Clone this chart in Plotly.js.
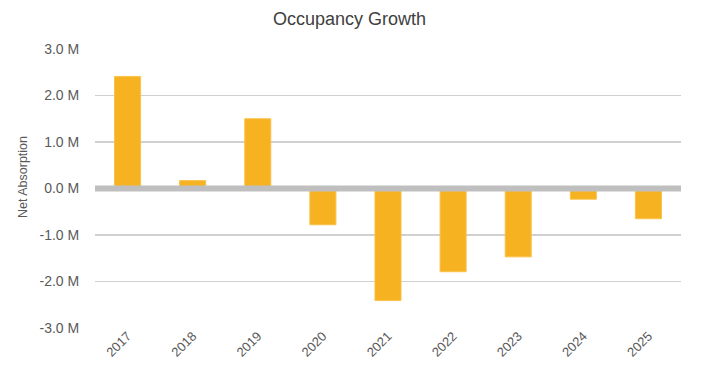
<!DOCTYPE html>
<html>
<head>
<meta charset="utf-8">
<script src="https://cdn.plot.ly/plotly-3.0.1.min.js"></script>
<style>html,body{margin:0;padding:0;background:#fff;}#chart{width:709px;height:380px;}</style>
</head>
<body>
<div id="chart"></div>
<script>
const years = ["2017","2018","2019","2020","2021","2022","2023","2024","2025"];
const netAbsorption = [2.41, 0.17, 1.50, -0.78, -2.41, -1.79, -1.47, -0.23, -0.65];
const yTickVals = [-3, -2, -1, 0, 1, 2, 3];
const yTickText = ["-3.0 M","-2.0 M","-1.0 M","0.0 M","1.0 M","2.0 M","3.0 M"];

const font = "Liberation Sans, Arial, Helvetica, sans-serif";

const trace = {
  type: "bar",
  x: years,
  y: netAbsorption,
  marker: { color: "#F6B221", line: { color: "#F9C24A", width: 1 } },
  hoverinfo: "x+y"
};

const layout = {
  width: 709,
  height: 380,
  margin: { l: 95, r: 28, t: 49, b: 52, pad: 0 },
  paper_bgcolor: "#ffffff",
  plot_bgcolor: "#ffffff",
  bargap: 0.6,
  showlegend: false,
  font: { family: font, color: "#595959", size: 13 },
  title: {
    text: "Occupancy Growth",
    font: { family: font, size: 18, color: "#404040" },
    x: 0.493, xref: "container", xanchor: "center",
    y: 0.95, yref: "container", yanchor: "middle"
  },
  xaxis: {
    type: "category",
    tickangle: -45,
    showgrid: false,
    showline: false,
    ticks: "",
    ticklabelstandoff: -3,
    tickfont: { family: font, size: 13, color: "#595959" },
    automargin: false
  },
  yaxis: {
    range: [-3, 3],
    tickvals: yTickVals,
    ticktext: yTickText,
    showgrid: true,
    gridcolor: "#D0D0D0",
    gridwidth: 1.5,
    zeroline: false,
    showline: false,
    ticks: "outside",
    ticklen: 12,
    tickcolor: "rgba(0,0,0,0)",
    tickfont: { family: font, size: 14, color: "#595959" },
    automargin: false
  },
  annotations: [{
    text: "Net Absorption",
    xref: "paper", yref: "paper",
    x: -0.123, y: 0.541,
    xanchor: "center", yanchor: "middle",
    textangle: -90,
    showarrow: false,
    font: { family: font, size: 12.5, color: "#595959" }
  }],
  shapes: [{
    type: "line", xref: "paper", yref: "y",
    x0: 0, x1: 1, y0: 0, y1: 0,
    line: { color: "#BFBFBF", width: 6 },
    layer: "above"
  }]
};

Plotly.newPlot("chart", [trace], layout, { displayModeBar: false, staticPlot: true });
</script>
</body>
</html>
